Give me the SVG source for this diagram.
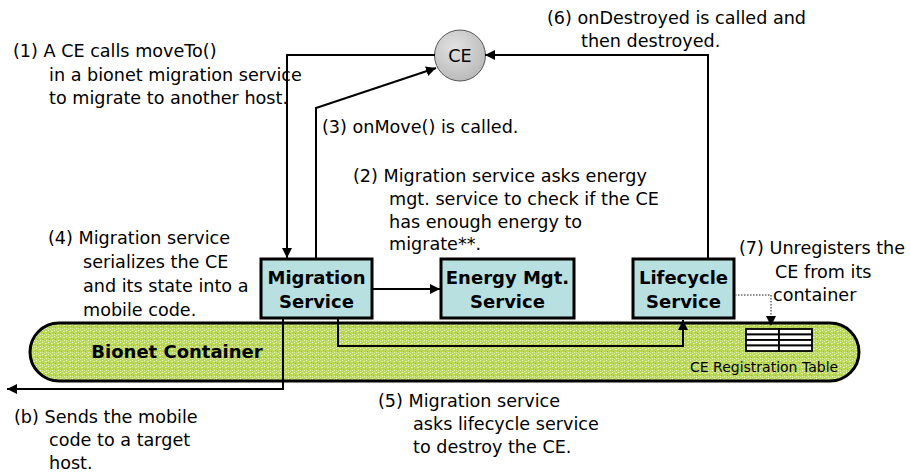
<svg xmlns="http://www.w3.org/2000/svg" width="910" height="473" viewBox="0 0 910 473">
<defs>
<style>
.t{font-family:"DejaVu Sans","Liberation Sans",sans-serif;font-size:17.6px;fill:#000}
.b{font-family:"DejaVu Sans","Liberation Sans",sans-serif;font-size:18px;font-weight:bold;fill:#000;text-anchor:middle}
.box{fill:#b9e0e1;stroke:#000;stroke-width:3}
.ln{fill:none;stroke:#000;stroke-width:2}
.dot{fill:none;stroke:#666;stroke-width:1.5;stroke-dasharray:1.5 1.5}
.cell{fill:#fff;stroke:#000;stroke-width:1.8}
</style>
<marker id="ah" viewBox="0 0 10 10" refX="10" refY="5" markerWidth="10" markerHeight="10" markerUnits="userSpaceOnUse" orient="auto">
<path d="M0,0 L10,5 L0,10 Z" fill="#000"/>
</marker>
<radialGradient id="ceg" cx="0.4" cy="0.35" r="0.7">
<stop offset="0" stop-color="#e2e2e2"/>
<stop offset="1" stop-color="#b8b8b8"/>
</radialGradient>
<pattern id="grn" width="6" height="6" patternUnits="userSpaceOnUse">
<rect width="6" height="6" fill="#bcd858"/>
<rect x="0" y="0" width="1" height="1" fill="#eef7d0"/>
<rect x="3" y="1" width="2" height="1" fill="#e0f0a8"/>
<rect x="1" y="3" width="1" height="1" fill="#98c032"/>
<rect x="4" y="4" width="1" height="1" fill="#eaf5c8"/>
<rect x="2" y="5" width="1" height="1" fill="#d8eca0"/>
<rect x="5" y="2" width="1" height="1" fill="#a4c83e"/>
<rect x="0" y="4" width="1" height="1" fill="#d4ea98"/>
</pattern>
</defs>
<rect width="910" height="473" fill="#fff"/>

<g id="container">
<rect x="30" y="323" width="829" height="58" rx="29" ry="29" fill="url(#grn)" stroke="#000" stroke-width="3"/>
<text class="b" x="177" y="358">Bionet Container</text>
</g>

<g id="table">
<rect class="cell" x="746" y="329" width="33" height="5.5"/>
<rect class="cell" x="779" y="329" width="33" height="5.5"/>
<rect class="cell" x="746" y="334.5" width="33" height="5.5"/>
<rect class="cell" x="779" y="334.5" width="33" height="5.5"/>
<rect class="cell" x="746" y="340" width="33" height="5.5"/>
<rect class="cell" x="779" y="340" width="33" height="5.5"/>
<rect class="cell" x="746" y="345.5" width="33" height="5.5"/>
<rect class="cell" x="779" y="345.5" width="33" height="5.5"/>
<text class="t" x="690" y="372" style="font-size:14px">CE Registration Table</text>
</g>

<g id="ce">
<circle cx="460" cy="55.5" r="25.5" fill="url(#ceg)" stroke="#555" stroke-width="1"/>
<text class="t" x="460" y="62" text-anchor="middle">CE</text>
</g>

<g id="migration">
<rect class="box" x="261" y="259" width="111" height="59"/>
<text class="b" x="316.5" y="284">Migration</text>
<text class="b" x="316.5" y="308">Service</text>
</g>

<g id="energy">
<rect class="box" x="441" y="259" width="133" height="59"/>
<text class="b" x="507.5" y="284">Energy Mgt.</text>
<text class="b" x="507.5" y="308">Service</text>
</g>

<g id="lifecycle">
<rect class="box" x="633" y="259" width="101" height="59"/>
<text class="b" x="683.5" y="284">Lifecycle</text>
<text class="b" x="683.5" y="308">Service</text>
</g>

<g id="connectors">
<path class="ln" d="M435,55 H287 V258" marker-end="url(#ah)"/>
<path class="ln" d="M316,258 V108 L436,68" marker-end="url(#ah)"/>
<path class="ln" d="M708,258 V55 H485" marker-end="url(#ah)"/>
<path class="ln" d="M373,289 H440" marker-end="url(#ah)"/>
<path class="ln" d="M338,319 V346 H683 V320" marker-end="url(#ah)"/>
<path class="ln" d="M283,319 V389 H7" marker-end="url(#ah)"/>
<path class="dot" d="M735,295 H771 V318"/>
<path d="M766,316 L776,316 L771,326 Z" fill="#000"/>
</g>

<g id="labels">
<text class="t" x="13" y="57">(1) A CE calls moveTo()</text>
<text class="t" x="49" y="80.5">in a bionet migration service</text>
<text class="t" x="49" y="104">to migrate to another host.</text>
<text class="t" x="322" y="133">(3) onMove() is called.</text>
<text class="t" x="547" y="24">(6) onDestroyed is called and</text>
<text class="t" x="581" y="47">then destroyed.</text>
<text class="t" x="353" y="182">(2) Migration service asks energy</text>
<text class="t" x="389" y="205">mgt. service to check if the CE</text>
<text class="t" x="389" y="228">has enough energy to</text>
<text class="t" x="389" y="250">migrate**.</text>
<text class="t" x="48" y="244">(4) Migration service</text>
<text class="t" x="83" y="268">serializes the CE</text>
<text class="t" x="83" y="292">and its state into a</text>
<text class="t" x="83" y="316">mobile code.</text>
<text class="t" x="739" y="254">(7) Unregisters the</text>
<text class="t" x="775" y="278">CE from its</text>
<text class="t" x="773" y="301">container</text>
<text class="t" x="14" y="423">(b) Sends the mobile</text>
<text class="t" x="49" y="446">code to a target</text>
<text class="t" x="49" y="469">host.</text>
<text class="t" x="378" y="407">(5) Migration service</text>
<text class="t" x="413" y="430">asks lifecycle service</text>
<text class="t" x="413" y="453">to destroy the CE.</text>
</g>
</svg>
